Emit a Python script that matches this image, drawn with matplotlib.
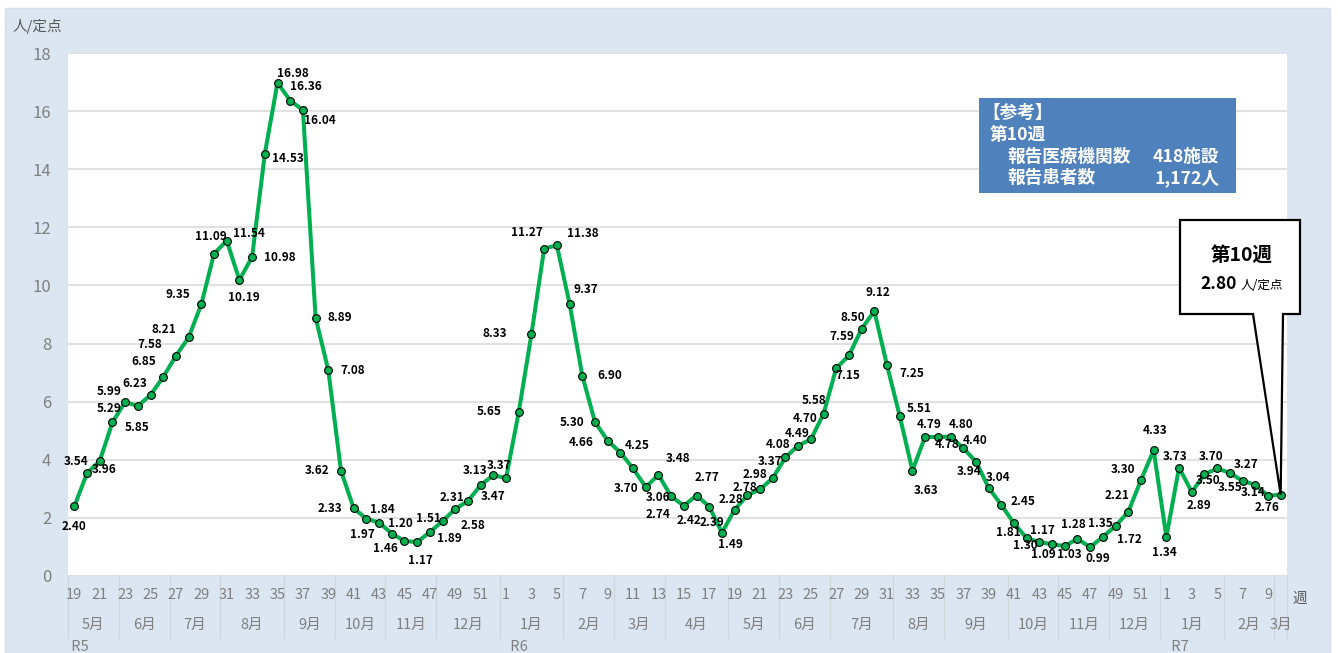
import numpy as np
import matplotlib.pyplot as plt
from matplotlib.patches import FancyBboxPatch, Rectangle, Polygon
from matplotlib.transforms import blended_transform_factory

plt.rcParams['font.family'] = ['Noto Sans CJK JP', 'DejaVu Sans']

# weekly values (人/定点)
r5_weeks = list(range(19, 53))
r5_values = [2.40, 3.54, 3.96, 5.29, 5.99, 5.85, 6.23, 6.85, 7.58, 8.21,
             9.35, 11.09, 11.54, 10.19, 10.98, 14.53, 16.98, 16.36, 16.04, 8.89,
             7.08, 3.62, 2.33, 1.97, 1.84, 1.46, 1.20, 1.17, 1.51, 1.89,
             2.31, 2.58, 3.13, 3.47]
r6_weeks = list(range(1, 53))
r6_values = [3.37, 5.65, 8.33, 11.27, 11.38, 9.37, 6.90, 5.30, 4.66, 4.25,
             3.70, 3.06, 3.48, 2.74, 2.42, 2.77, 2.39, 1.49, 2.28, 2.78,
             2.98, 3.37, 4.08, 4.49, 4.70, 5.58, 7.15, 7.59, 8.50, 9.12,
             7.25, 5.51, 3.63, 4.79, 4.78, 4.80, 4.40, 3.94, 3.04, 2.45,
             1.81, 1.30, 1.17, 1.09, 1.03, 1.28, 0.99, 1.35, 1.72, 2.21,
             3.30, 4.33]
r7_weeks = list(range(1, 11))
r7_values = [1.34, 3.73, 2.89, 3.50, 3.70, 3.55, 3.27, 3.14, 2.76, 2.80]

# month groups (label, number of weeks)
r5_months = [('5月', 4), ('6月', 4), ('7月', 4), ('8月', 5), ('9月', 4),
             ('10月', 4), ('11月', 4), ('12月', 5)]
r6_months = [('1月', 5), ('2月', 4), ('3月', 4), ('4月', 5), ('5月', 4), ('6月', 4),
             ('7月', 5), ('8月', 4), ('9月', 5), ('10月', 4), ('11月', 4), ('12月', 4)]
r7_months = [('1月', 5), ('2月', 4), ('3月', 1)]
eras = ['R5', 'R6', 'R7']

weeks = r5_weeks + r6_weeks + r7_weeks
values = r5_values + r6_values + r7_values
months = r5_months + r6_months + r7_months
era_sizes = [len(r5_weeks), len(r6_weeks), len(r7_weeks)]
x = np.arange(len(values))

# label placement (pixels, dy up) -- picked by eye from the chart
label_off = [(0, -20), (-11, 12), (4, -9), (-3, 14), (-16, 10), (-1, -21), (-16, 11), (-19, 15),
             (-26, 11), (-25, 8), (-23, 10), (-3, 17), (22, 7), (4, -18), (28, -1), (23, -5),
             (15, 9), (16, 14), (17, -11), (24, 0), (24, 0), (-24, 0), (-24, 0), (-4, -16),
             (3, 13), (-6, -15), (-4, 18), (3, -18), (-1, 14), (7, -17), (-3, 11), (5, -24),
             (-6, 15), (0, -21), (-7, 13), (-30, 0), (-37, 0), (-17, 16), (26, 12), (16, 14),
             (27, 0), (-23, 0), (-26, -2), (17, 7), (-7, -20), (12, -10), (20, 16), (-13, -18),
             (5, -15), (10, 18), (3, -16), (8, -12), (-4, 10), (-2, 8), (-5, 15), (-3, 17),
             (-7, 13), (-1, 12), (-6, 21), (-9, 13), (12, -7), (-7, 19), (-9, 12), (4, 19),
             (25, -8), (19, 7), (14, -20), (4, 12), (9, -7), (11, 12), (12, 8), (-7, -10),
             (9, 10), (22, 3), (-6, -9), (-1, -7), (3, 12), (-9, -10), (5, -8), (-4, 14),
             (8, -11), (-3, 13), (14, -13), (-11, 16), (-18, 11), (1, 20), (-2, -15), (-4, 11),
             (7, -13), (4, -6), (-6, 12), (0, -15), (4, 16), (-2, -8), (-1, -12), None]

W, H = 1338, 653
fig = plt.figure(figsize=(W / 100, H / 100), dpi=100, facecolor='white')

def fy(py):
    return 1 - py / H

def fx(px):
    return px / W

# light blue panel
fig.patches.append(FancyBboxPatch((fx(5), fy(660)), fx(1325), (660 - 8) / H,
                                  boxstyle='square,pad=0', transform=fig.transFigure,
                                  facecolor='#DCE6F2', edgecolor='#D3DBE6', lw=1, zorder=-5))

ax = fig.add_axes([fx(68), fy(576), fx(1287 - 68), (576 - 53) / H])
ax.set_facecolor('white')
ax.plot(x, values, color='#00B050', lw=2.9, zorder=3, solid_joinstyle='round')
ax.plot(x, values, 'o', ms=5.6, mfc='#00B050', mec='black', mew=0.8, zorder=4)

for i, v in enumerate(values):
    if label_off[i] is None:
        continue
    ax.annotate(f'{v:.2f}', (i, v), xytext=label_off[i], textcoords='offset pixels',
                ha='center', va='center', fontsize=8.5, fontweight='bold', color='black', zorder=6)

ax.set_xlim(-0.5, len(values) - 0.5)
ax.set_ylim(0, 18)
ax.set_yticks(range(0, 19, 2))
ax.yaxis.grid(True, color='#D9D9D9', lw=1.1)
ax.set_axisbelow(True)
ax.set_xticks([])
ax.tick_params(axis='y', length=0, pad=12, labelsize=12, labelcolor='#7F7F7F')
for s in ax.spines.values():
    s.set_visible(False)

# category axis (week / month / era)
tr = blended_transform_factory(ax.transData, fig.transFigure)
for i, w in enumerate(weeks):
    if i % 2 == 0:
        ax.text(i, fy(595), str(w), transform=tr, ha='center', va='center',
                fontsize=10.5, color='#7F7F7F', clip_on=False)

sep_color = '#CFD5DD'
start = 0
bounds = [-0.5]
for name, n in months:
    ax.text(start + (n - 1) / 2, fy(625), name, transform=tr, ha='center', va='center',
            fontsize=10.5, color='#7F7F7F', clip_on=False)
    start += n
    bounds.append(start - 0.5)
for b in bounds:
    ax.plot([b, b], [fy(576), fy(638)], transform=tr, color=sep_color, lw=1, clip_on=False)

start = 0
for k, (name, n) in enumerate(zip(eras, era_sizes)):
    ax.text(start - 0.5 + (0 if k == 0 else 0.6), fy(647), ' ' + name, transform=tr,
            ha='left', va='center', fontsize=10.5, color='#7F7F7F', clip_on=False)
    start += n

fig.text(fx(1300), fy(599), '週', ha='center', va='center', fontsize=10.5, color='#595959')
fig.text(fx(13), fy(27), '人/定点', ha='left', va='center', fontsize=10.5, color='#595959')

# reference box
fig.patches.append(Rectangle((fx(979), fy(193)), fx(1236 - 979), (193 - 98) / H,
                             transform=fig.transFigure, facecolor='#4F81BD', edgecolor='none', zorder=5))
tk = dict(color='white', fontsize=12.7, fontweight='bold', va='center', zorder=6)
fig.text(fx(982), fy(113), '【参考】', ha='left', **tk)
fig.text(fx(990), fy(135), '第10週', ha='left', **tk)
fig.text(fx(1007), fy(157), '報告医療機関数', ha='left', **tk)
fig.text(fx(1219), fy(157), '418施設', ha='right', **tk)
fig.text(fx(1007), fy(178), '報告患者数', ha='left', **tk)
fig.text(fx(1219), fy(178), '1,172人', ha='right', **tk)

# callout pointing at the latest week
fig.canvas.draw()
tip = ax.transData.transform((x[-1], values[-1]))
tip_px = (tip[0], H - tip[1])
pts = [(1180, 220), (1300, 220), (1300, 314), (1283, 314), tip_px, (1253, 314), (1180, 314)]
fig.patches.append(Polygon([(fx(a), fy(b)) for a, b in pts], closed=True, transform=fig.transFigure,
                           facecolor='white', edgecolor='black', lw=1.6, zorder=5))
fig.text(fx(1242), fy(255), f'第{weeks[-1]}週', ha='center', va='center',
         fontsize=14, fontweight='bold', color='black', zorder=6)
fig.text(fx(1237), fy(284), f'{values[-1]:.2f}', ha='right', va='center',
         fontsize=12.5, fontweight='bold', color='black', zorder=6)
fig.text(fx(1241), fy(285), '人/定点', ha='left', va='center',
         fontsize=9, color='black', zorder=6)

fig.savefig('out.png', dpi=100)
